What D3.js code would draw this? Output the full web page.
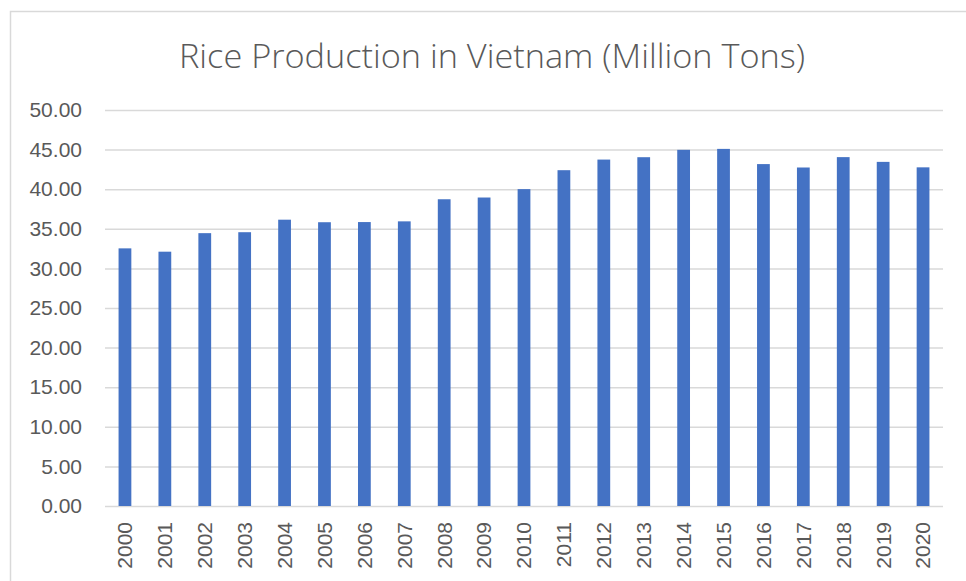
<!DOCTYPE html>
<html>
<head>
<meta charset="utf-8">
<script src="https://cdn.jsdelivr.net/npm/d3@7"></script>
<style>
  body { margin: 0; background: #fff; }
  svg { display: block; font-family: "Liberation Sans", Arial, sans-serif; }
</style>
</head>
<body>
<div id="chart"></div>
<script>
// values
var years = ["2000","2001","2002","2003","2004","2005","2006","2007","2008","2009","2010",
  "2011","2012","2013","2014","2015","2016","2017","2018","2019","2020"];
var production = [32.53,32.11,34.45,34.57,36.15,35.83,35.85,35.94,38.73,38.95,40.01,
  42.40,43.74,44.04,44.97,45.09,43.17,42.74,44.05,43.45,42.76];
var yTicks = [0,5,10,15,20,25,30,35,40,45,50];

var width = 966,
  height = 581;

var margin = {left: 105, right: 24, top: 110, bottom: 75};

var svg = d3.select('#chart').append('svg')
  .attr('width', width)
  .attr('height', height)

// chart frame (only top and left edges are visible in the crop)
svg.append("path")
  .attr("d", "M10.5," + height + "V11.5H" + width)
  .style("fill", "none")
  .style("stroke", "#d9d9d9")
  .style("stroke-width", 1.5);

var x = d3.scaleBand()
  .domain(years)
  .range([margin.left, width - margin.right + 1])
  .paddingInner(0.68)
  .paddingOuter(0.34);

var y = d3.scaleLinear()
  .domain([0, 50])
  .range([height - margin.bottom, margin.top]);

// gridlines
svg.append("g")
  .attr("transform", "translate(" + margin.left + ",0)")
  .call(d3.axisLeft(y).tickValues(yTicks).tickSize(-(width - margin.right + 1 - margin.left)).tickFormat(""))
  .call(function(g) {
    g.select(".domain").remove();
    g.selectAll("line").style("stroke", "#d9d9d9").style("stroke-width", 1.5);
  });

// y labels
svg.append("g")
  .attr("transform", "translate(" + margin.left + ",0)")
  .call(d3.axisLeft(y).tickValues(yTicks).tickSize(0).tickPadding(23).tickFormat(d3.format(".2f")))
  .call(function(g) {
    g.select(".domain").remove();
    g.selectAll("text")
      .style("font-family", "'Liberation Sans', Arial, sans-serif")
      .style("font-size", "21px")
      .style("fill", "#595959");
  });

// bars
svg.append("g").selectAll("rect")
  .data(production)
  .enter().append("rect")
  .attr("x", function(d, i) { return x(years[i]); })
  .attr("y", function(d) { return y(d); })
  .attr("width", x.bandwidth())
  .attr("height", function(d) { return y(0) - y(d); })
  .style("fill", "#4472c4");

// x labels, rotated
svg.append("g")
  .attr("transform", "translate(0," + (height - margin.bottom) + ")")
  .call(d3.axisBottom(x).tickSize(0).tickPadding(0))
  .call(function(g) {
    g.select(".domain").remove();
    g.selectAll("text")
      .attr("transform", "rotate(-90)")
      .attr("x", -16)
      .attr("y", 0)
      .attr("dy", "0.35em")
      .style("text-anchor", "end")
      .style("font-family", "'Liberation Sans', Arial, sans-serif")
      .style("font-size", "21px")
      .style("fill", "#595959");
  });

// title
svg.append("text")
  .text("Rice Production in Vietnam (Million Tons)")
  .attr("x", 492)
  .attr("y", 68)
  .attr("text-anchor", "middle")
  .attr("textLength", 626)
  .attr("lengthAdjust", "spacingAndGlyphs")
  .style("font-family", "'Open Sans', 'Noto Sans', sans-serif")
  .style("font-weight", 300)
  .style("font-size", "33px")
  .style("fill", "#595959");
</script>
</body>
</html>
